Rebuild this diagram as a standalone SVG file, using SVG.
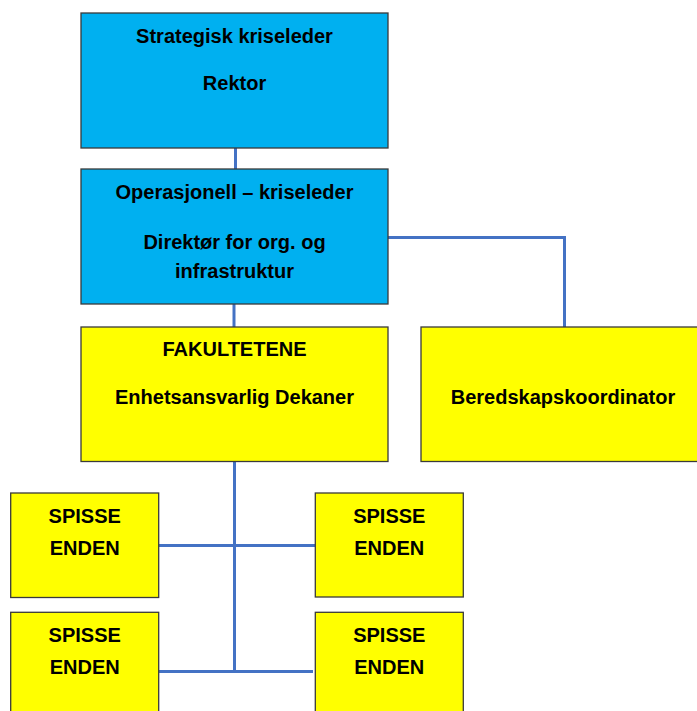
<svg xmlns="http://www.w3.org/2000/svg" width="697" height="711" viewBox="0 0 697 711">
  <style>
    .box { stroke: #3a3a3a; stroke-width: 1.3; }
    .blue { fill: #00B0F0; }
    .yellow { fill: #FFFF00; }
    .lbl { font-family: "Liberation Sans", Arial, sans-serif; font-weight: bold; font-size: 20px; fill: #000; text-anchor: middle; }
    .link { fill: none; stroke: #4472C4; stroke-width: 3; }
  </style>
  <rect width="697" height="711" fill="#fff"/>

  <!-- connectors -->
  <g id="connectors">
    <path class="link" d="M235.5 148 V169"/>
    <path class="link" d="M234 304 V327"/>
    <path class="link" d="M388 237.5 H564.5 V327"/>
    <path class="link" d="M234.5 461.5 V671.5"/>
    <path class="link" d="M158.7 545.5 H315.3"/>
    <path class="link" d="M158.7 671.5 H313"/>
  </g>

  <!-- nodes -->
  <g id="strategisk">
    <rect class="box blue" x="81" y="13" width="307" height="135"/>
    <text class="lbl" x="234.5" y="43">Strategisk kriseleder</text>
    <text class="lbl" x="234.5" y="90">Rektor</text>
  </g>

  <g id="operasjonell">
    <rect class="box blue" x="81" y="169" width="307" height="135"/>
    <text class="lbl" x="234.5" y="199">Operasjonell – kriseleder</text>
    <text class="lbl" x="234.5" y="249">Direktør for org. og</text>
    <text class="lbl" x="234.5" y="278">infrastruktur</text>
  </g>

  <g id="fakultetene">
    <rect class="box yellow" x="81" y="327" width="307" height="134.5"/>
    <text class="lbl" x="234.5" y="356">FAKULTETENE</text>
    <text class="lbl" x="234.5" y="404">Enhetsansvarlig Dekaner</text>
  </g>

  <g id="beredskap">
    <rect class="box yellow" x="421" y="327" width="280" height="134.5"/>
    <text class="lbl" x="563" y="404">Beredskapskoordinator</text>
  </g>

  <g id="spisse-1">
    <rect class="box yellow" x="10.7" y="493" width="148" height="104.5"/>
    <text class="lbl" x="84.7" y="522.5">SPISSE</text>
    <text class="lbl" x="84.7" y="555">ENDEN</text>
  </g>

  <g id="spisse-2">
    <rect class="box yellow" x="315.3" y="493" width="148" height="104"/>
    <text class="lbl" x="389.3" y="522.5">SPISSE</text>
    <text class="lbl" x="389.3" y="555">ENDEN</text>
  </g>

  <g id="spisse-3">
    <rect class="box yellow" x="10.7" y="612.3" width="148" height="110"/>
    <text class="lbl" x="84.7" y="641.5">SPISSE</text>
    <text class="lbl" x="84.7" y="674">ENDEN</text>
  </g>

  <g id="spisse-4">
    <rect class="box yellow" x="315.3" y="612.3" width="148" height="110"/>
    <text class="lbl" x="389.3" y="641.5">SPISSE</text>
    <text class="lbl" x="389.3" y="674">ENDEN</text>
  </g>
</svg>
